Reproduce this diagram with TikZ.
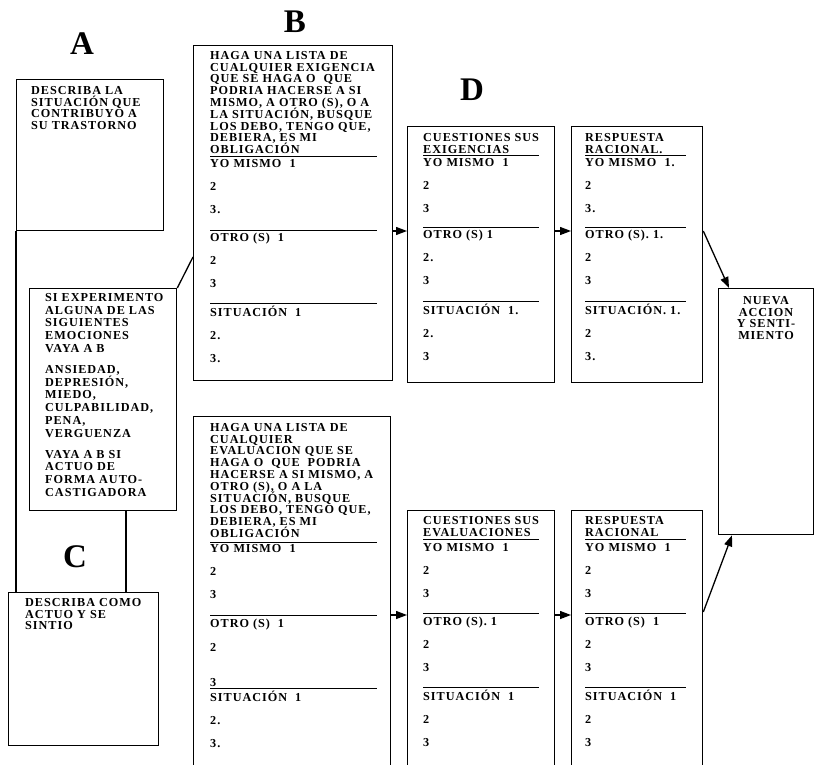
\documentclass[tikz,border=0pt]{standalone}
\usepackage{fontspec}
\setmainfont{Liberation Serif}
\usetikzlibrary{arrows.meta,positioning}

\newcommand{\cardfont}[1][11.8]{\fontsize{12.2}{#1}\selectfont\bfseries\addfontfeatures{LetterSpace=8}\lineskiplimit=-50pt\lineskip=0pt}

\begin{document}
\begin{tikzpicture}[x=1pt,y=-1pt,
    panel/.style={draw,line width=1.3pt,inner sep=0pt,anchor=north west},
    words/.style={anchor=north west,yshift=8pt,inner sep=0pt,align=left,font=\cardfont},
    letter/.style={inner sep=0pt,font=\fontsize{33}{33}\selectfont\bfseries},
    rule/.style={line width=0.7pt},
    link/.style={line width=1.3pt},
    arr/.style={link,-{Triangle[length=11pt,width=8pt]}}]
    \useasboundingbox (0,0) rectangle (814,765);
    \clip (0,0) rectangle (814,765);
    % big letters
    \node[letter] (labA) at (82,44) {A};
    \node[letter] (labB) at (295,22) {B};
    \node[letter] (labC) at (75,557) {C};
    \node[letter] (labD) at (472,90) {D};
    % boxes
    \node[panel,minimum width=147pt,minimum height=151pt] (A) at (16,79) {};
    \node[panel,minimum width=199pt,minimum height=335pt] (B1) at (193,45) {};
    \node[panel,minimum width=147pt,minimum height=222pt] (E) at (29,288) {};
    \node[panel,minimum width=150pt,minimum height=153pt] (C) at (8,592) {};
    \node[panel,minimum width=147pt,minimum height=256pt] (D1) at (407,126) {};
    \node[panel,minimum width=131pt,minimum height=256pt] (R1) at (571,126) {};
    \node[panel,minimum width=95pt,minimum height=246pt] (N) at (718,288) {};
    \node[panel,minimum width=197pt,minimum height=370pt] (B2) at (193,416) {};
    \node[panel,minimum width=147pt,minimum height=276pt] (D2) at (407,510) {};
    \node[panel,minimum width=131pt,minimum height=276pt] (R2) at (571,510) {};
    % left column
    \node[words] (Atxt) at (31,94) {DESCRIBA LA\\SITUACIÓN QUE\\CONTRIBUYO A\\SU TRASTORNO};
    \node[words,font={\cardfont[12.8]}] (Etxt) at (45,301) {SI EXPERIMENTO\\ALGUNA DE LAS\\SIGUIENTES\\EMOCIONES\\VAYA A B\\[8pt]ANSIEDAD,\\DEPRESIÓN,\\MIEDO,\\CULPABILIDAD,\\PENA,\\VERGUENZA\\[8pt]VAYA A B SI\\ACTUO DE\\FORMA AUTO-\\CASTIGADORA};
    \node[words] (Ctxt) at (25,606) {DESCRIBA COMO\\ACTUO Y SE\\SINTIO};
    % B, upper
    \node[words] (B1txt) at (210,59) {HAGA UNA LISTA DE\\CUALQUIER EXIGENCIA\\QUE SE HAGA O\ \ QUE\\PODRIA HACERSE A SI\\MISMO, A OTRO (S), O A\\LA SITUACIÓN, BUSQUE\\LOS DEBO, TENGO QUE,\\DEBIERA, ES MI\\OBLIGACIÓN};
    \draw[rule] (210,156) -- (377,156);
    \node[words] (B1a) at (210,167) {YO MISMO\ \ 1\\[11.2pt]2\\[11.2pt]3.};
    \draw[rule] (210,230) -- (377,230);
    \node[words] (B1b) at (210,241) {OTRO (S)\ \ 1\\[11.2pt]2\\[11.2pt]3};
    \draw[rule] (210,303) -- (377,303);
    \node[words] (B1c) at (210,314) {SITUACIÓN\ \ 1\\[11.2pt]2.\\[11.2pt]3.};
    % D, upper
    \node[words] (D1txt) at (423,141) {CUESTIONES SUS\\EXIGENCIAS};
    \draw[rule] (423,155) -- (539,155);
    \node[words] (D1a) at (423,166) {YO MISMO\ \ 1\\[11.2pt]2\\[11.2pt]3};
    \draw[rule] (423,227) -- (539,227);
    \node[words] (D1b) at (423,238) {OTRO (S)\ 1\\[11.2pt]2.\\[11.2pt]3};
    \draw[rule] (423,301) -- (539,301);
    \node[words] (D1c) at (423,312) {SITUACIÓN\ \ 1.\\[11.2pt]2.\\[11.2pt]3};
    \node[words] (R1txt) at (585,141) {RESPUESTA\\RACIONAL.};
    \draw[rule] (585,155) -- (686,155);
    \node[words] (R1a) at (585,166) {YO MISMO\ \ 1.\\[11.2pt]2\\[11.2pt]3.};
    \draw[rule] (585,227) -- (686,227);
    \node[words] (R1b) at (585,238) {OTRO (S).\ 1.\\[11.2pt]2\\[11.2pt]3};
    \draw[rule] (585,301) -- (686,301);
    \node[words] (R1c) at (585,312) {SITUACIÓN.\ 1.\\[11.2pt]2\\[11.2pt]3.};
    % result
    \node[words,anchor=north,align=center] (Ntxt) at (766,304) {NUEVA\\ACCION\\Y SENTI-\\MIENTO};
    % B, lower
    \node[words] (B2txt) at (210,431) {HAGA UNA LISTA DE\\CUALQUIER\\EVALUACION QUE SE\\HAGA O\ \ QUE\ \ PODRIA\\HACERSE A SI MISMO, A\\OTRO (S), O A LA\\SITUACIÓN, BUSQUE\\LOS DEBO, TENGO QUE,\\DEBIERA, ES MI\\OBLIGACIÓN};
    \draw[rule] (210,542) -- (377,542);
    \node[words] (B2a) at (210,552) {YO MISMO\ \ 1\\[11.2pt]2\\[11.2pt]3};
    \draw[rule] (210,615) -- (377,615);
    \node[words] (B2b) at (210,627) {OTRO (S)\ \ 1\\[12.2pt]2\\[23pt]3};
    \draw[rule] (210,688) -- (377,688);
    \node[words] (B2c) at (210,699) {SITUACIÓN\ \ 1\\[11.2pt]2.\\[11.2pt]3.};
    % D, lower
    \node[words] (D2txt) at (423,524) {CUESTIONES SUS\\EVALUACIONES};
    \draw[rule] (423,539) -- (539,539);
    \node[words] (D2a) at (423,551) {YO MISMO\ \ 1\\[11.2pt]2\\[11.2pt]3};
    \draw[rule] (423,613) -- (539,613);
    \node[words] (D2b) at (423,625) {OTRO (S).\ 1\\[11.2pt]2\\[11.2pt]3};
    \draw[rule] (423,687) -- (539,687);
    \node[words] (D2c) at (423,698) {SITUACIÓN\ \ 1\\[11.2pt]2\\[11.2pt]3};
    \node[words] (R2txt) at (585,524) {RESPUESTA\\RACIONAL};
    \draw[rule] (585,539) -- (686,539);
    \node[words] (R2a) at (585,551) {YO MISMO\ \ 1\\[11.2pt]2\\[11.2pt]3};
    \draw[rule] (585,613) -- (686,613);
    \node[words] (R2b) at (585,625) {OTRO (S)\ \ 1\\[11.2pt]2\\[11.2pt]3};
    \draw[rule] (585,687) -- (686,687);
    \node[words] (R2c) at (585,698) {SITUACIÓN\ \ 1\\[11.2pt]2\\[11.2pt]3};
    % connectors
    \coordinate (rowA) at (0,231);
    \coordinate (rowB) at (0,615);
    \coordinate (drop) at (126,0);
    \draw[link] (A.south west) -- (A.south west |- C.north);
    \draw[link] (E.north east) -- (B1.west |- 0,257);
    \draw[link] (E.south -| drop) -- (C.north -| drop);
    \draw[arr] (B1.east |- rowA) -- (D1.west |- rowA);
    \draw[arr] (D1.east |- rowA) -- (R1.west |- rowA);
    \draw[arr] (R1.east |- rowA) -- ([xshift=11pt]N.north west);
    \draw[arr] (B2.east |- rowB) -- (D2.west |- rowB);
    \draw[arr] (D2.east |- rowB) -- (R2.west |- rowB);
    \draw[arr] (R2.east |- 0,612) -- ([xshift=14pt]N.south west);
\end{tikzpicture}
\end{document}
